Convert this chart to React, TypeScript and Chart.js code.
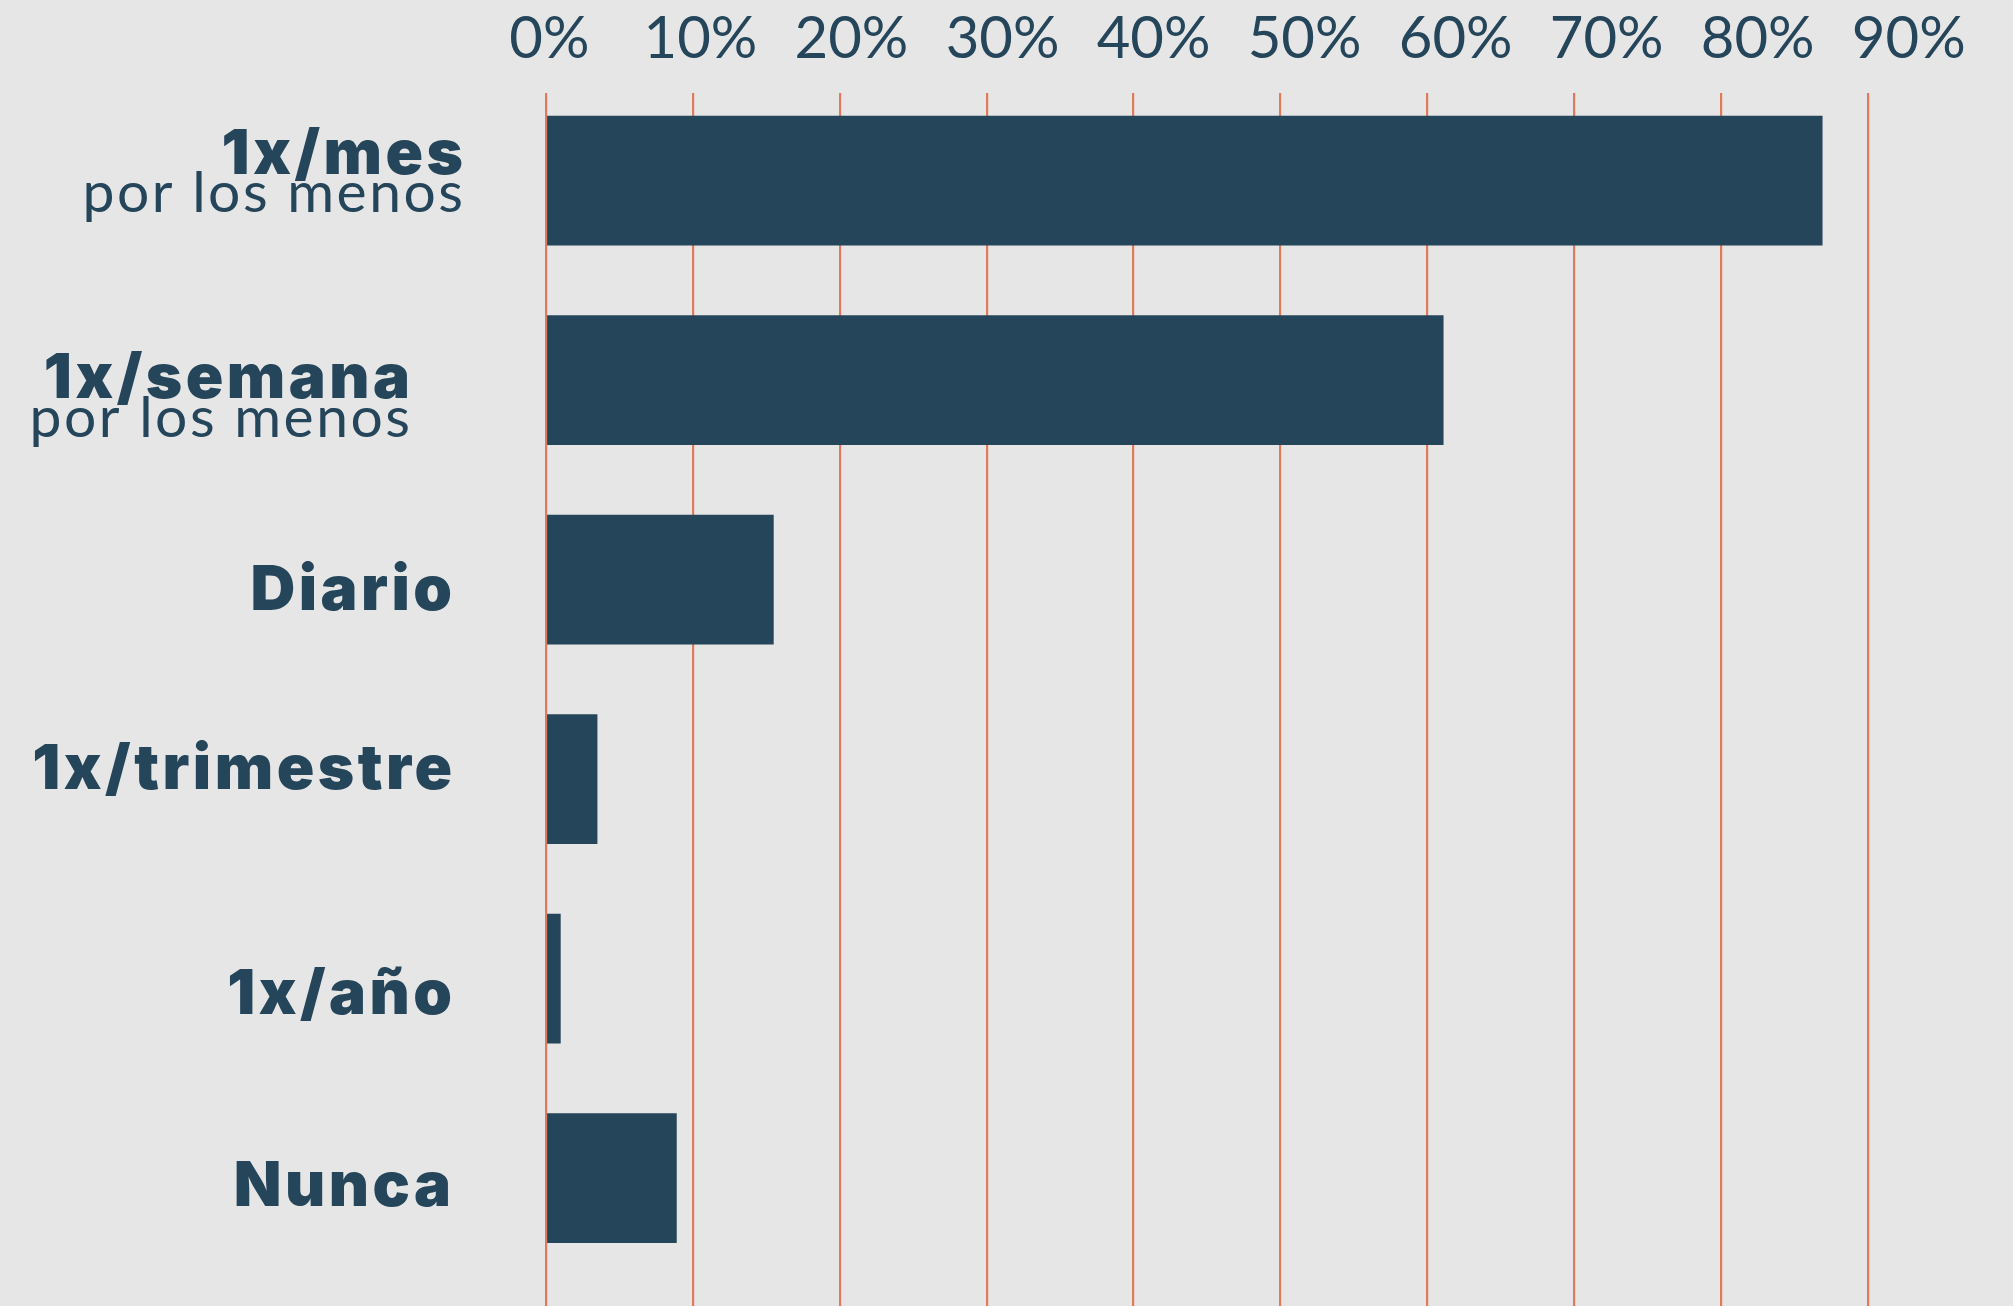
import React, { useEffect, useRef } from "react";
import { Chart, registerables } from "chart.js";

Chart.register(...registerables);

// ---- data ----
const categories = ["1x/mes", "1x/semana", "Diario", "1x/trimestre", "1x/año", "Nunca"];
const subtitles = ["por los menos", "por los menos", "", "", "", ""];
const values = [86.9, 61.1, 15.5, 3.5, 1.0, 8.9];
const tickValues = [0, 10, 20, 30, 40, 50, 60, 70, 80, 90];
const tickLabels = ["0%", "10%", "20%", "30%", "40%", "50%", "60%", "70%", "80%", "90%"];

// ---- styles ----
const INK = "#25455a";
const GRID = "#e07a5c";
const BG = "#e6e6e6";

const twoLineLabels = {
  id: "twoLineLabels",
  afterDatasetsDraw(chart: any, _args: any, opts: any) {
    const { ctx } = chart;
    const x0 = chart.scales.x.getPixelForValue(0);
    const yScale = chart.scales.y;
    ctx.save();
    ctx.fillStyle = opts.color;
    ctx.textAlign = "right";
    ctx.textBaseline = "alphabetic";
    categories.forEach((name, i) => {
      const cy = yScale.getPixelForValue(i);
      const right = x0 - opts.gap + opts.nudgeX[i];
      const base = cy + opts.nudgeY[i];
      ctx.font = opts.boldFont;
      (ctx as any).letterSpacing = opts.boldSpacing;
      ctx.fillText(name, right + parseFloat(opts.boldSpacing), base);
      if (subtitles[i]) {
        ctx.font = opts.subFont;
        (ctx as any).letterSpacing = opts.subSpacing;
        ctx.fillText(subtitles[i], right + parseFloat(opts.subSpacing), base + opts.subGap);
      }
    });
    ctx.restore();
  },
};

const setTicks = (vals: number[]) => (scale: any) => {
  scale.ticks = vals.map((v) => ({ value: v }));
};

export default function App() {
  const ref = useRef<HTMLCanvasElement | null>(null);

  useEffect(() => {
    if (!ref.current) return;
    const chart = new Chart(ref.current, {
      type: "bar",
      data: {
        datasets: [
          {
            data: values.map((v, i) => ({ x: v, y: i })) as any,
            backgroundColor: INK,
            borderWidth: 0,
            barPercentage: 0.65,
            categoryPercentage: 1,
            xAxisID: "x",
            yAxisID: "y",
          },
        ],
      },
      options: {
        responsive: false,
        animation: false,
        indexAxis: "y",
        layout: { padding: { left: 480, right: 23, top: 5, bottom: 0 }, autoPadding: false },
        plugins: {
          legend: { display: false },
          tooltip: { enabled: false },
          twoLineLabels: {
            color: INK,
            gap: 94,
            nudgeX: [11, -42, 0, 0, 0, -1],
            nudgeY: [-7, 18, 30, 10, 35, 28],
            subGap: 38.5,
            boldFont: "900 62px Inter",
            subFont: "400 57px Lato",
            boldSpacing: "3.5px",
            subSpacing: "2.5px",
          },
        } as any,
        scales: {
          x: {
            type: "linear",
            position: "bottom",
            min: -4.493,
            max: 98.3,
            offset: false,
            afterBuildTicks: setTicks(tickValues),
            afterFit: (s: any) => {
              s.height = 0;
            },
            ticks: { display: false },
            grid: { color: GRID, lineWidth: 2.2, drawTicks: false, offset: false },
            border: { display: false },
          },
          xLabels: {
            type: "linear",
            axis: "x",
            position: "top",
            min: -4.595,
            max: 95.38,
            offset: false,
            afterBuildTicks: setTicks(tickValues),
            afterFit: (s: any) => {
              s.height = 88;
            },
            ticks: {
              callback: (v: any) => tickLabels[tickValues.indexOf(Number(v))],
              font: { family: "Lato", size: 58, weight: "400", lineHeight: 1 },
              color: INK,
              padding: 25,
              maxRotation: 0,
              autoSkip: false,
            },
            grid: { display: false, drawTicks: false },
            border: { display: false },
          },
          y: {
            type: "linear",
            reverse: true,
            min: -0.439,
            max: 5.641,
            offset: false,
            display: false,
            grid: { offset: false },
            afterBuildTicks: setTicks(categories.map((_, i) => i)),
          },
        } as any,
      },
      plugins: [twoLineLabels],
    });
    return () => chart.destroy();
  }, []);

  return (
    <div
      style={{
        position: "fixed",
        left: 0,
        top: 0,
        width: 2013,
        height: 1306,
        background: BG,
      }}
    >
      <canvas ref={ref} width={2013} height={1306} style={{ display: "block", width: 2013, height: 1306 }} />
    </div>
  );
}
